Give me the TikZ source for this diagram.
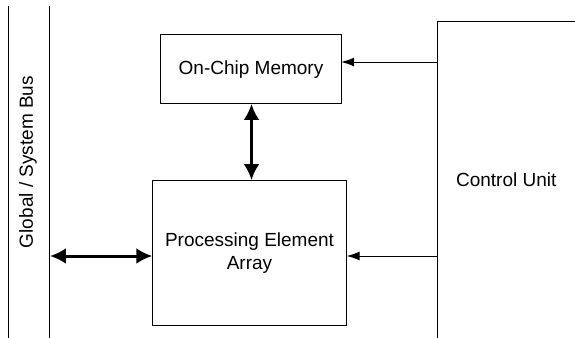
\documentclass[tikz,border=0pt]{standalone}
\usepackage{fontspec}
\setmainfont{Liberation Sans}
\usetikzlibrary{arrows.meta}

\tikzset{
    block/.style={draw,line width=0.5pt,inner sep=0,outer sep=0,align=center},
    thin arrow/.style={line width=0.5pt,-{Latex[length=6.5pt,width=4.5pt]}},
    thick arrow/.style={line width=1.5pt,{Latex[length=8pt,width=8pt]}-{Latex[length=8pt,width=8pt]}}
}

\begin{document}
\begin{tikzpicture}[x=0.5pt,y=-0.5pt,font=\fontsize{9.5}{11.5}\selectfont]
    \useasboundingbox (0,0) rectangle (575,338);
    \node[inner sep=0,outer sep=0,minimum width=20.5pt,minimum height=166pt] (bus) at (29.5,172) {};
    \draw[line width=0.5pt] (bus.north west) -- (bus.south west);
    \draw[line width=0.5pt] (bus.north east) -- (bus.south east);
    \node[rotate=90] (buslabel) at (28,162) {Global / System Bus};

    \node[inner sep=0,outer sep=0,minimum width=68.75pt,minimum height=158.5pt] (cu) at (506.25,179.5) {Control Unit};
    \draw[line width=0.5pt] (cu.south west) -- (cu.north west) -- (cu.north east);

    \node[block,minimum width=90.15pt,minimum height=34.65pt] (mem) at (251,69.3) {On-Chip Memory};
    \node[block,minimum width=97.2pt,minimum height=72.85pt] (pe) at (249.5,252.9) {Processing Element\\Array};

    \draw[thin arrow] (cu.west |- 0,62) -- (mem.east |- 0,62);
    \draw[thin arrow] (cu.west |- 0,256) -- (pe.east |- 0,256);
    \draw[thick arrow] (bus.east |- 0,256) -- (pe.west |- 0,256);
    \draw[thick arrow] (mem.south -| 251.5,0) -- (pe.north -| 251.5,0);
\end{tikzpicture}
\end{document}
